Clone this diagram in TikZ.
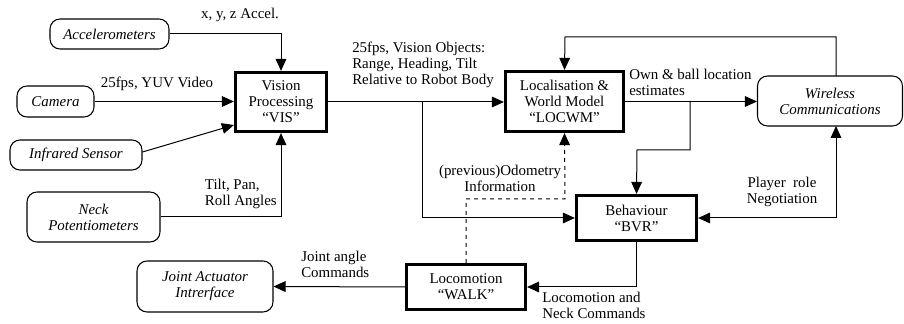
\documentclass[tikz,border=0pt]{standalone}
\usepackage{fontspec}
\setmainfont{Liberation Serif}
\usetikzlibrary{arrows.meta,calc}
\begin{document}
\begin{tikzpicture}[x=0.75pt,y=-0.75pt,
  font=\fontsize{11.2}{12}\selectfont,
  soft/.style={draw,line width=0.8pt,rounded corners=7.5pt,align=center,font=\fontsize{11.2}{12}\selectfont\itshape,inner sep=0pt},
  proc/.style={draw,line width=2.4pt,align=center,inner sep=0pt},
  conn/.style={line width=0.75pt,-{Triangle[length=9pt,width=8pt]}},
  lbl/.style={align=left,inner sep=0pt},
]
\useasboundingbox (0,0) rectangle (904,324);
% sources / sinks
\node[soft,minimum width=89.25pt,minimum height=22.5pt] (acc) at (109.5,34) {Accelerometers};
\node[soft,minimum width=57.75pt,minimum height=23.25pt] (cam) at (55.5,101.5) {Camera};
\node[soft,minimum width=99pt,minimum height=22.5pt] (ir) at (76,155) {Infrared Sensor};
\node[soft,minimum width=99.75pt,minimum height=37.5pt] (neck) at (93.5,217) {Neck\\Potentiometers};
\node[soft,minimum width=102pt,minimum height=38.25pt] (joint) at (205,286.5) {Joint Actuator\\Intrerface};
\node[soft,minimum width=108.75pt,minimum height=37.5pt] (wire) at (830,101) {Wireless\\Communications};
% processes
\node[proc,minimum width=68.25pt,minimum height=44.25pt] (vis) at (281,102) {Vision\\Processing\\“VIS”};
\node[proc,minimum width=88.5pt,minimum height=45pt] (loc) at (564.5,101.5) {Localisation \&\\World Model\\“LOCWM”};
\node[proc,minimum width=90pt,minimum height=33.75pt] (bvr) at (636.5,218) {Behaviour\\“BVR”};
\node[proc,minimum width=89.25pt,minimum height=33.75pt] (walk) at (466,287) {Locomotion\\“WALK”};
% helper coordinates
\coordinate (wtop) at (836,76);
\coordinate (wbot) at (836,126);
\coordinate (brA) at (422,101);
\coordinate (brB) at (690,101);
% connectors
\draw[conn] (acc.east) -| (vis.north);
\draw[conn] (cam.east) -- (cam.east -| vis.west);
\draw[conn] ($(ir.east)+(0,-3)$) -- ($(vis.west)+(0,23)$);
\draw[conn] (neck.east) -| (vis.south);
\draw[conn] (vis.east) -- (vis.east -| loc.west);
\draw[conn] (brA) |- (bvr.west);
\draw[conn] (loc.east) -- (loc.east -| wire.west);
\draw[conn] (brB) |- (637,150) -- (bvr.north);
\draw[conn] (wtop) |- (565,37) -- (loc.north);
\draw[line width=0.75pt,{Triangle[length=9pt,width=8pt]}-{Triangle[length=9pt,width=8pt]}] (bvr.east) -| (wbot);
\draw[conn] (bvr.south) |- (walk.east);
\draw[conn] (walk.west) -- (joint.east);
\draw[conn,dashed] (walk.north) |- (565,199) -- (loc.south);
% labels
\node[lbl] (l1) at (240,15) {x, y, z Accel.};
\node[lbl] (l2) at (157,84) {25fps, YUV Video};
\node[lbl,align=left,anchor=east] (l3) at (277,194) {Tilt, Pan,\\Roll Angles};
\node[lbl,anchor=west] (l4) at (352,65) {25fps, Vision Objects:\\Range, Heading, Tilt\\Relative to Robot Body};
\node[lbl,anchor=west] (l5) at (629,82) {Own \& ball location\\estimates};
\node[lbl,align=center] (l6) at (782,192) {Player\ \ role\\Negotiation};
\node[lbl,align=center] (l7) at (500,178) {(previous)Odometry\\Information};
\node[lbl,anchor=west] (l8) at (301,264) {Joint angle\\Commands};
\node[lbl,anchor=north west] (l9) at (542,292) {Locomotion and\\Neck Commands};
\end{tikzpicture}
\end{document}
